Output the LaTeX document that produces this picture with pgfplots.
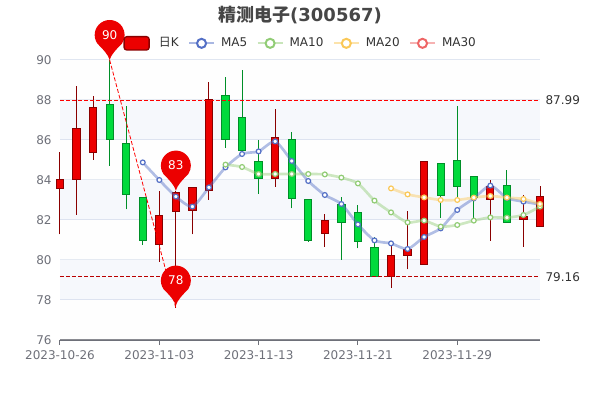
\documentclass[border=0pt]{standalone}
\usepackage{fontspec}
\setmainfont{DejaVu Sans}
\newfontfamily\cjk{Noto Sans CJK SC}
\usepackage{pgfplots}
\pgfplotsset{compat=1.18}
\definecolor{upf}{HTML}{EC0000}\definecolor{upb}{HTML}{8A0000}
\definecolor{dnf}{HTML}{00DA3C}\definecolor{dnb}{HTML}{008F28}
\definecolor{maA}{HTML}{5470C6}\definecolor{maB}{HTML}{91CC75}
\definecolor{maC}{HTML}{FAC858}\definecolor{maD}{HTML}{EE6666}
\definecolor{gridc}{HTML}{E0E6F1}\definecolor{axc}{HTML}{6E7079}
\definecolor{bandd}{RGB}{210,219,238}\definecolor{bandl}{RGB}{250,250,250}
\definecolor{titlec}{HTML}{464646}\definecolor{txt}{HTML}{333333}
% 1 px = 0.75 pt
\pgfdeclareplotmark{pin}{%
  \pgfpathmoveto{\pgfpointorigin}%
  \pgfpathcurveto{\pgfpoint{-1pt}{4pt}}{\pgfpoint{-5pt}{8pt}}{\pgfpoint{-9.2pt}{12.3pt}}%
  \pgfpatharc{215}{-35}{11.25pt}%
  \pgfpathcurveto{\pgfpoint{5pt}{8pt}}{\pgfpoint{1pt}{4pt}}{\pgfpointorigin}%
  \pgfpathclose\pgfusepathqfill}
\newcommand{\up}[5]{% i open close low high
  \addplot[upb,line width=.75pt,forget plot] coordinates {(#1,#4)(#1,#5)};
  \addplot[fill=upf,draw=upb,line width=.75pt,forget plot] coordinates {(#1-.22,#2)(#1+.22,#2)(#1+.22,#3)(#1-.22,#3)} --cycle;}
\newcommand{\dn}[5]{%
  \addplot[dnb,line width=.75pt,forget plot] coordinates {(#1,#4)(#1,#5)};
  \addplot[fill=dnf,draw=dnb,line width=.75pt,forget plot] coordinates {(#1-.22,#2)(#1+.22,#2)(#1+.22,#3)(#1-.22,#3)} --cycle;}
\newcommand{\band}[3]{\addplot[fill=#3,fill opacity=.2,draw=none,forget plot] coordinates {(0,#1)(29,#1)(29,#2)(0,#2)} --cycle;}
\pgfplotsset{
  malegend/.style={legend image code/.code={
    \draw[#1,opacity=.5,line width=1.5pt] (-.02cm,0) -- (.64cm,0);
    \draw[#1,fill=white,line width=1.5pt] (.31cm,0) circle (3.4pt);}},
  klegend/.style={legend image code/.code={
    \draw[fill=upf,draw=upb,line width=1pt,rounded corners=2pt,xshift=3pt] (-.02cm,-5pt) rectangle (.64cm,5pt);}},
}
\begin{document}
\begin{tikzpicture}
\useasboundingbox (0,0) rectangle (450pt,300pt);
\begin{axis}[
  at={(45pt,45pt)},anchor=south west,
  scale only axis,width=360pt,height=210pt,
  xmin=0,xmax=29,ymin=76,ymax=90,clip=false,
  xtick={0,6,12,18,24},
  xticklabels={2023-10-26,2023-11-03,2023-11-13,2023-11-21,2023-11-29},
  ytick={76,78,...,90},
  ymajorgrids,major grid style={gridc,line width=.75pt},
  axis x line*=bottom,axis y line*=left,
  x axis line style={axc,line width=.75pt,-},
  y axis line style={draw=none},
  tick align=outside,
  xtick style={axc,line width=.75pt},
  ytick style={draw=none},
  major tick length=3.75pt,
  /pgf/number format/assume math mode=true,
  tick label style={font=\fontsize{9}{11}\selectfont,text=axc},
  xticklabel style={yshift=-1pt},
  yticklabel style={xshift=1pt},
  title={\fontsize{13.5}{16}\selectfont\bfseries\color{titlec}{\cjk 精测电子}(300567)},
  title style={at={(0.5,1)},anchor=center,yshift=28pt},
  legend columns=5,
  legend style={at={(0.5,1)},anchor=center,yshift=12.5pt,xshift=0.75pt,draw=none,fill=none,
    font=\fontsize{9}{11}\selectfont,text=txt,inner sep=0pt,
    /tikz/every odd column/.append style={column sep=2.5pt},
    /tikz/every even column/.append style={column sep=5pt}},
  legend cell align=left,
]
\addlegendimage{klegend}\addlegendentry{\hspace{2.25pt}{\cjk 日}K\hspace{-2.25pt}}
% split areas
\band{76}{78}{bandl}\band{78}{80}{bandd}\band{80}{82}{bandl}\band{82}{84}{bandd}
\band{84}{86}{bandl}\band{86}{88}{bandd}\band{88}{90}{bandl}
% candles: i open close low high
\up{0}{83.58}{84.0}{81.28}{85.4}
\up{1}{84.0}{86.58}{82.25}{88.7}
\up{2}{85.37}{87.6}{85.0}{88.2}
\dn{3}{87.78}{86.0}{84.7}{90.0}
\dn{4}{85.83}{83.25}{82.53}{87.7}
\dn{5}{83.1}{80.95}{80.75}{83.1}
\up{6}{80.75}{82.2}{79.9}{83.47}
\up{7}{82.43}{83.37}{77.6}{83.47}
\up{8}{82.48}{83.6}{81.28}{83.6}
\up{9}{83.47}{88.0}{83.0}{88.88}
\dn{10}{88.2}{86.0}{85.6}{89.17}
\dn{11}{87.1}{85.45}{85.4}{89.5}
\dn{12}{84.9}{84.08}{83.3}{86.0}
\up{13}{84.08}{86.1}{83.67}{87.55}
\dn{14}{86.0}{83.07}{82.58}{86.38}
\dn{15}{83.03}{80.98}{80.9}{83.03}
\up{16}{81.3}{81.98}{80.67}{82.3}
\dn{17}{82.78}{81.88}{80.0}{83.13}
\dn{18}{82.38}{80.92}{80.58}{82.75}
\dn{19}{80.63}{79.15}{79.15}{81.17}
\up{20}{79.15}{80.22}{78.62}{80.7}
\up{21}{80.22}{80.53}{79.53}{82.45}
\up{22}{79.78}{84.9}{79.78}{84.9}
\dn{23}{84.82}{83.22}{82.12}{84.82}
\dn{24}{84.98}{83.65}{83.0}{87.7}
\dn{25}{84.18}{83.13}{82.1}{84.18}
\up{26}{83.0}{83.67}{80.97}{84.0}
\dn{27}{83.7}{81.88}{81.88}{84.5}
\up{28}{82.02}{82.17}{80.67}{83.25}
\up{29}{81.68}{83.18}{81.68}{83.7}
% moving averages
\addplot[maA,opacity=.45,line width=2pt,smooth,tension=.4,forget plot] coordinates {
(5,84.88)(6,84.0)(7,83.17)(8,82.67)(9,83.63)(10,84.63)(11,85.3)(12,85.43)(13,85.93)(14,84.95)(15,83.95)(16,83.25)(17,82.8)(18,81.78)(19,80.98)(20,80.83)(21,80.55)(22,81.15)(23,81.58)(24,82.5)(25,83.08)(26,83.72)(27,83.1)(28,82.92)(29,82.78)};
\addplot[maB,opacity=.45,line width=2pt,smooth,tension=.4,forget plot] coordinates {
(10,84.77)(11,84.65)(12,84.3)(13,84.3)(14,84.3)(15,84.3)(16,84.28)(17,84.12)(18,83.83)(19,82.97)(20,82.38)(21,81.88)(22,81.97)(23,81.67)(24,81.75)(25,81.97)(26,82.13)(27,82.12)(28,82.25)(29,82.67)};
\addplot[maC,opacity=.45,line width=2pt,smooth,tension=.4,forget plot] coordinates {
(20,83.58)(21,83.28)(22,83.13)(23,83.0)(24,83.0)(25,83.12)(26,83.2)(27,83.12)(28,83.05)(29,82.8)};
\addplot[only marks,mark=*,mark size=1.8pt,mark options={draw=maA,fill=white,line width=.9pt},malegend=maA] coordinates {
(5,84.88)(6,84.0)(7,83.17)(8,82.67)(9,83.63)(10,84.63)(11,85.3)(12,85.43)(13,85.93)(14,84.95)(15,83.95)(16,83.25)(17,82.8)(18,81.78)(19,80.98)(20,80.83)(21,80.55)(22,81.15)(23,81.58)(24,82.5)(25,83.08)(26,83.72)(27,83.1)(28,82.92)(29,82.78)};
\addlegendentry{MA5}
\addplot[only marks,mark=*,mark size=1.8pt,mark options={draw=maB,fill=white,line width=.9pt},malegend=maB] coordinates {
(10,84.77)(11,84.65)(12,84.3)(13,84.3)(14,84.3)(15,84.3)(16,84.28)(17,84.12)(18,83.83)(19,82.97)(20,82.38)(21,81.88)(22,81.97)(23,81.67)(24,81.75)(25,81.97)(26,82.13)(27,82.12)(28,82.25)(29,82.67)};
\addlegendentry{MA10\hspace{-1.5pt}}
\addplot[only marks,mark=*,mark size=1.8pt,mark options={draw=maC,fill=white,line width=.9pt},malegend=maC] coordinates {
(20,83.58)(21,83.28)(22,83.13)(23,83.0)(24,83.0)(25,83.12)(26,83.2)(27,83.12)(28,83.05)(29,82.8)};
\addlegendentry{MA20}
\addlegendimage{malegend=maD}\addlegendentry{MA30}
% mark lines
\addplot[red,dash pattern=on 3pt off 1.5pt,line width=.75pt,forget plot] coordinates {(0,87.99)(29,87.99)} node[pos=1,anchor=west,xshift=0.5pt,font=\fontsize{9}{11}\selectfont,text=txt]{87.99};
\addplot[upb!60!red,dash pattern=on 3pt off 1.5pt,line width=.75pt,forget plot] coordinates {(0,79.16)(29,79.16)} node[pos=1,anchor=west,xshift=0.5pt,font=\fontsize{9}{11}\selectfont,text=txt]{79.16};
\addplot[red,dash pattern=on 3pt off 1.5pt,line width=.6pt,forget plot] coordinates {(3,90)(7,77.6)};
% mark points
\addplot[only marks,mark=pin,upf,forget plot,point meta=explicit symbolic,
  nodes near coords,
  nodes near coords align={anchor=center},
  every node near coord/.append style={yshift=18.75pt,text=white,font=\fontsize{9}{11}\selectfont}]
  table[meta=lab] {
x y lab
3 90.0 90
7 83.47 83
7 77.72 78
};
\end{axis}
\end{tikzpicture}
\end{document}
